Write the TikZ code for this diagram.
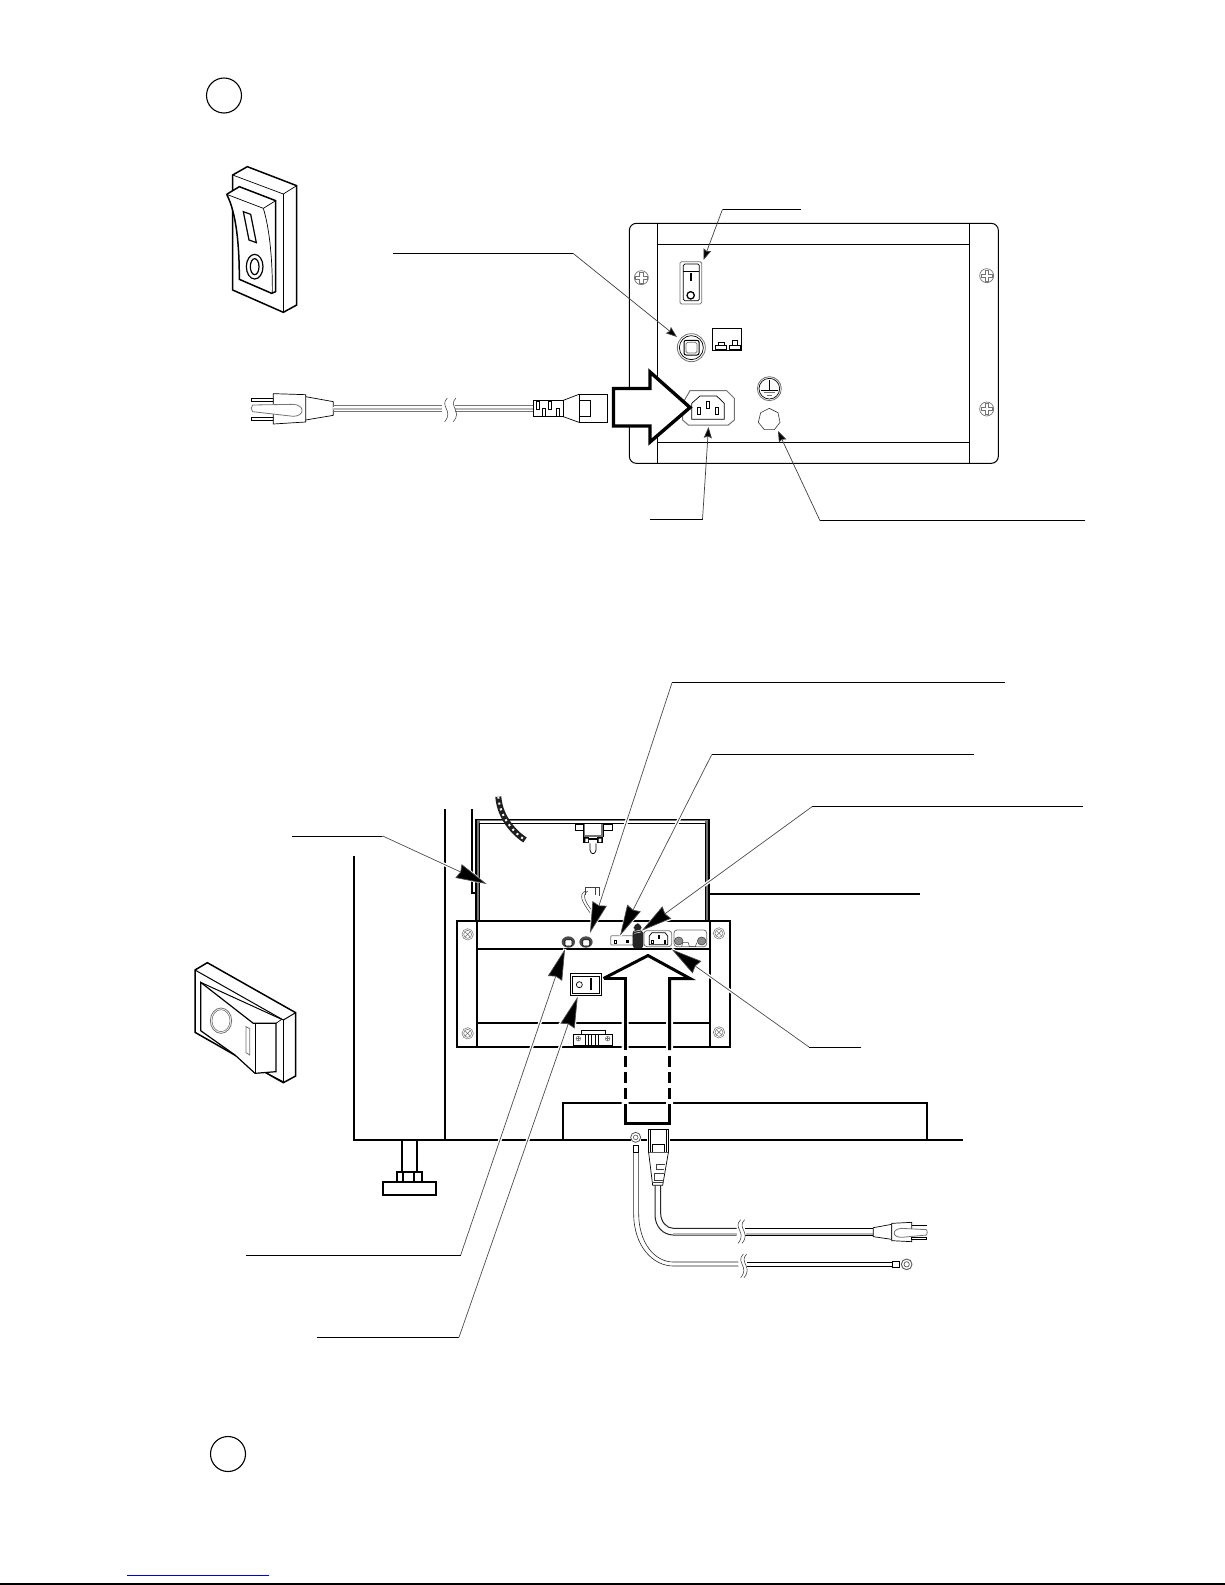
\documentclass[tikz,border=0pt]{standalone}
\usetikzlibrary{arrows.meta}
\definecolor{gr}{gray}{0.45}
\definecolor{lg}{gray}{0.72}
\tikzset{
  crop/.style 2 args={shift={(#1,#2)},x=0.33333pt,y=-0.33333pt},
  thk/.style={line width=1.5pt,line join=miter},
  med/.style={line width=1pt},
  thn/.style={line width=0.7pt},
  fine/.style={line width=0.55pt,draw=black!75},
  heavy/.style={line width=1.9pt},
  grayl/.style={line width=0.8pt,draw=gr},
  shelf/.style={line width=0.9pt},
  leadthin/.style={line width=0.7pt,draw=black!75},
  smallarrow/.style={leadthin,-{Stealth[length=11pt,width=8pt,inset=1.5pt,fill=black]}},
  bigarrow/.style={-{Stealth[length=31pt,width=15pt,inset=2pt,fill=black]},line width=0.7pt,draw=black!70},
  halo/.style={line width=3.5pt,draw=white},
  bigoutline/.style={line width=3.4pt,line join=miter,draw=black},
  screw/.style={line width=0.5pt,draw=gr}
}
\newcommand{\sbreak}[3]{%
  \draw[fine] (#1,#2-33) .. controls (#1-25,#2-8) and (#1+20,#2+5) .. (#1-8,#2+38);
  \draw[fine] (#1+#3,#2-33) .. controls (#1+#3-25,#2-8) and (#1+#3+20,#2+5) .. (#1+#3-8,#2+38);
}
\begin{document}
\begin{tikzpicture}[x=1pt,y=-1pt]
\useasboundingbox (0,0) rectangle (1225,1585);
\fill[white] (0,0) rectangle (1225,1585);

% ---- circles
\node[draw,circle,line width=1.1pt,minimum size=35pt,inner sep=0pt] (markA) at (224,95.5) {};
\node[draw,circle,line width=1.1pt,minimum size=35pt,inner sep=0pt] (markB) at (228,1454) {};

% ---- upper switch
\begin{scope}[crop={180}{60}]
 \draw[thk] (158,345)--(202,320)--(350,377)--(350,735)--(310,757)--(158,690)--cycle;
 \draw[thn] (158,345)--(310,402)--(350,377);
 \draw[thn] (310,402)--(310,757);
 \draw[thk,fill=white] (140,403)--(178,380)--(287,422)--(287,695)--(275,700)--(178,658)
    .. controls (178,560) and (170,460) .. (140,403);
 \draw[thn] (140,403)--(250,445)--(287,422);
 \draw[thn] (250,445) .. controls (270,510) and (278,610) .. (277,700);
 \draw[thn] (158,450) -- (158,640);
 \draw[line width=1.2pt] (190,455)--(212,463)--(229,548)--(207,540)--cycle;
 \draw[line width=1.2pt] (224,620) ellipse [x radius=25,y radius=37];
 \draw[line width=1.2pt] (224,620) ellipse [x radius=13,y radius=24];
 % plug and cord
 \draw[thn] (214,1015) rectangle (280,1025);
 \draw[thn] (214,1072) rectangle (280,1082);
 \draw[thn,fill=white] (280,1001)--(377,1004)--(377,1086)--(280,1092)--cycle;
 \draw[grayl,fill=white] (218,1035)--(340,1033) .. controls (375,1035) and (375,1068) .. (340,1069)--(218,1055) .. controls (212,1050) and (212,1040) .. (218,1035);
 \draw[thn] (377,1010)--(460,1025)--(460,1066)--(377,1080);
 \fill[lg] (460,1040) rectangle (785,1050);
 \fill[lg] (825,1040) rectangle (1060,1050);
 \fill[white] (460,1041) rectangle (785,1045);
 \fill[white] (825,1041) rectangle (1060,1045);
 \draw[grayl] (460,1036)--(785,1036) (460,1054)--(785,1054);
 \draw[grayl] (825,1036)--(1060,1036) (825,1054)--(1060,1054);
 \sbreak{802}{1047}{26}
 \draw[thn] (1060,1021) rectangle (1150,1070);
 \draw[thn] (1068,1023) rectangle (1078,1047);
 \draw[thn] (1105,1023) rectangle (1115,1047);
 \draw[thn] (1088,1045) rectangle (1096,1068);
 \draw[thn] (1128,1045) rectangle (1137,1068);
 \draw[thn] (1150,1021)--(1197,1003) (1150,1070)--(1197,1087);
 \draw[thn] (1197,1003) rectangle (1282,1087);
 \draw[thn] (1197,1021) rectangle (1232,1070);
\end{scope}

% ---- upper panel
\begin{scope}[crop={610}{190}]
 \draw[med,rounded corners=7pt] (58,100) rectangle (1165,820);
 \draw[med] (143,100)--(143,820) (1077,100)--(1077,820);
 \draw[med] (143,163)--(1077,163) (143,757)--(1077,757);
 \foreach \sx/\sy in {94/263,1130/257,1130/657}{
   \draw[screw,line width=0.7pt] (\sx,\sy) circle (21);
   \draw[screw] (\sx-5,\sy-17)--(\sx+5,\sy-17)--(\sx+5,\sy-5)--(\sx+17,\sy-5)--(\sx+17,\sy+5)--(\sx+5,\sy+5)--(\sx+5,\sy+17)--(\sx-5,\sy+17)--(\sx-5,\sy+5)--(\sx-17,\sy+5)--(\sx-17,\sy-5)--(\sx-5,\sy-5)--cycle;
 }
 % switch
 \draw[grayl,rounded corners=1.5pt] (210,215) rectangle (275,342);
 \draw[thn,rounded corners=1.5pt] (220,222) rectangle (268,332);
 \draw[thn] (220,245)--(268,245);
 \fill (240,250) rectangle (246,272);
 \draw[line width=1.3pt] (242,316) circle (11);
 % button
 \draw[grayl] (244,473) circle (42);
 \draw[thn] (244,473) circle (36);
 \draw[med,rounded corners=2pt] (222,451) rectangle (267,495);
 \draw[grayl,rounded corners=1.5pt] (228,457) rectangle (261,489);
 % terminal box
 \draw[line width=0.5pt] (307,415) rectangle (395,482);
 \draw[line width=0.6pt] (317,465) rectangle (348,477);
 \draw[line width=0.6pt] (325,457) rectangle (342,465);
 \draw[line width=0.6pt] (358,465) rectangle (390,477);
 \draw[line width=0.6pt] (367,452) rectangle (383,465);
 % socket
 \draw[grayl,line width=1pt] (240,602)--(350,602)--(373,625)--(373,690)--(355,705)--(235,705)--(218,690)--(218,640)--cycle;
 \draw[thn] (245,640)--(270,618)--(320,618)--(343,640)--(343,688)--(245,688)--cycle;
 \draw[thn] (262,652) rectangle (272,674);
 \draw[thn] (288,634) rectangle (298,656);
 \draw[thn] (316,652) rectangle (326,674);
 % earth
 \draw[grayl] (478,596) circle (36);
 \draw[thn] (478,596) circle (31);
 \draw[thn] (478,570)--(478,600) (452,600)--(504,600);
 \draw[grayl] (462,608)--(494,608) (470,616)--(486,616);
 \draw[line width=0.6pt,draw=black!80] (478,655)--(504,668)--(510,697)--(493,719)--(463,719)--(445,697)--(452,668)--cycle;
\end{scope}

% ---- upper heavy arrow
\coordinate (ua1) at (613.5,388.5);
\coordinate (ua2) at (650,388.5);
\coordinate (ua3) at (650,372);
\coordinate (ua4) at (690,407.5);
\coordinate (ua5) at (650,442);
\coordinate (ua6) at (650,426);
\coordinate (ua7) at (613.5,426);
\draw[bigoutline,fill=white] (ua1)--(ua2)--(ua3)--(ua4)--(ua5)--(ua6)--(ua7)--cycle;

% ---- upper leaders
\coordinate (l1a) at (393,253.3);
\coordinate (l1b) at (573,253.3);
\coordinate (l1t) at (677,337);
\draw[shelf] (l1a)--(l1b);
\draw[smallarrow] (l1b)--(l1t);
\coordinate (l2a) at (801,209.3);
\coordinate (l2b) at (722.5,209.3);
\coordinate (l2t) at (703.5,260);
\draw[shelf] (l2a)--(l2b);
\draw[smallarrow] (l2b)--(l2t);
\coordinate (l3a) at (650,519.3);
\coordinate (l3b) at (702.5,519.3);
\coordinate (l3t) at (708.5,427);
\draw[shelf] (l3a)--(l3b);
\draw[smallarrow] (l3b)--(l3t);
\coordinate (l4a) at (1085,520.7);
\coordinate (l4b) at (820,520.7);
\coordinate (l4t) at (778,431);
\draw[shelf] (l4a)--(l4b);
\draw[smallarrow] (l4b)--(l4t);

% ---- cabinet
\draw[heavy] (354,856)--(354,1140)--(963,1140);
\draw[heavy] (444.7,809)--(444.7,1140);
\draw[heavy] (471.7,809)--(471.7,893)--(475,893);
\draw[heavy] (562.7,1140)--(562.7,1103.3)--(926.7,1103.3)--(926.7,1140);
% door
\fill[gr] (476,819) rectangle (709,823);
\fill[gr] (476,819) rectangle (479.5,921);
\fill[gr] (705.5,819) rectangle (709,921);
\fill[white] (480,821) rectangle (705,823);
\draw[heavy,line width=1.5pt] (476,921)--(476,819.5)--(709,819.5)--(709,921);
\draw[heavy,line width=1.5pt] (479.5,921)--(479.5,823.5)--(705.5,823.5)--(705.5,921);
\draw[heavy] (710,894)--(920,894);
% panel
\begin{scope}[crop={440}{790}]
 \draw[heavy,fill=white] (50,393) rectangle (870,770);
 \draw[heavy] (110,393)--(110,770) (810,393)--(810,770);
 \draw[heavy] (110,477)--(810,477) (110,698)--(810,698);
 \foreach \sx/\sy in {83/433,837/430,83/730,837/727}{
   \draw[screw] (\sx,\sy) circle (17);
   \draw[screw] (\sx,\sy) circle (12);
   \draw[screw] (\sx-8,\sy-8)--(\sx+8,\sy+8) (\sx-8,\sy+8)--(\sx+8,\sy-8);
 }
 % chain
 \draw[line width=6pt,draw=black!88] (175,20) .. controls (178,70) and (210,120) .. (255,150);
 \draw[line width=2pt,draw=white,dash pattern=on 2pt off 4pt] (175,20) .. controls (178,70) and (210,120) .. (255,150);
 % top connector
 \draw[thn] (405,103) rectangle (430,122);
 \draw[thn] (490,103) rectangle (518,122);
 \fill[gr] (430,103) rectangle (490,140);
 \fill[white] (436,103) rectangle (484,136);
 \draw[thn] (430,103)--(430,140) (490,103)--(490,140);
 \draw[line width=2pt] (430,146)--(490,146);
 \fill (430,140) rectangle (448,160);
 \fill (470,140) rectangle (490,160);
 \fill[white] (436,146) rectangle (444,156) (476,146) rectangle (484,156);
 \draw[thn] (450,160)--(450,180) .. controls (452,195) and (466,195) .. (468,180)--(468,160);
 % small wire
 \draw[fine] (437,315)--(437,292)--(478,292)--(478,318);
 \draw[fine] (437,303) .. controls (415,312) and (425,335) .. (450,368);
 \draw[fine] (443,303) .. controls (425,315) and (435,335) .. (456,362);
 \draw[fine] (465,292)--(465,315);
 % round buttons
 \fill[black!70] (385,456) ellipse [x radius=20,y radius=17];
 \fill[black!70] (438,456) ellipse [x radius=20,y radius=17];
 \draw[thn,fill=white,rounded corners=1pt] (375,449) rectangle (396,468);
 \draw[thn,fill=white,rounded corners=1pt] (428,449) rectangle (449,468);
 % terminal strip
 \draw[grayl,rounded corners=1pt] (512,437) rectangle (580,465);
 \draw[thn] (522,450) rectangle (530,460);
 \fill (558,450) rectangle (568,460);
 % fuse holder
 \fill[black!85,rounded corners=3pt] (578,420) rectangle (610,475);
 \fill[black!85,rounded corners=5pt] (581,400) rectangle (605,426);
 \draw[white,line width=0.5pt] (583,424)--(603,420) (583,430)--(603,426);
 % socket
 \draw[grayl,rounded corners=3pt] (612,422) rectangle (695,470);
 \draw[thn] (628,438)--(636,428)--(675,428)--(683,438)--(683,464)--(628,464)--cycle;
 \draw[thn] (635,450) rectangle (640,460);
 \draw[thn] (654,436) rectangle (659,446);
 \draw[thn] (672,450) rectangle (677,460);
 % right connector
 \draw[grayl,rounded corners=3pt] (702,420) rectangle (800,470);
 \draw[fine] (725,470)--(728,458)--(745,458)--(748,470)--(766,470)--(770,458);
 \draw[fine,fill=black!45] (716,453) ellipse [x radius=13,y radius=12];
 \draw[fine,fill=black!45] (785,453) ellipse [x radius=13,y radius=12];
 % switch
 \draw[med,fill=white] (390,550) rectangle (485,617);
 \draw[thn] (398,558) rectangle (477,609);
 \draw[thn] (418,584) circle (9);
 \fill (450,565) rectangle (455,600);
 % bottom connector
 \draw[thn,fill=white] (425,720) rectangle (495,732);
 \draw[thn,fill=white] (400,732) rectangle (518,765);
 \foreach \vx in {435,445,455,465,475}{\draw[thn] (\vx,732)--(\vx,765);}
 \draw[gr,line width=0.5pt] (415,746) circle (7) (503,746) circle (7);
 \draw[gr,line width=0.5pt] (408,746)--(422,746) (415,739)--(415,753) (496,746)--(510,746) (503,739)--(503,753);
\end{scope}

% ---- lower big arrow
\coordinate (ba1) at (625,1123);
\coordinate (ba2) at (625,978.5);
\coordinate (ba3) at (603.5,978.5);
\coordinate (ba4) at (648,955.5);
\coordinate (ba5) at (690,978.5);
\coordinate (ba6) at (669.5,978.5);
\coordinate (ba7) at (669.5,1123);
\draw[draw=white,line width=7pt] (ba3)--(ba4)--(ba5) (625,980)--(625,1123) (669.5,980)--(669.5,1123);
\draw[line width=3pt,line join=miter] (ba3)--(ba2)--(625,1050);
\draw[line width=3pt,line join=miter] (ba3)--(ba4)--(ba5)--(ba6)--(669.5,1050);
\draw[line width=3pt,dash pattern=on 11pt off 5pt] (625,1056)--(625,1100);
\draw[line width=3pt,dash pattern=on 11pt off 5pt] (669.5,1056)--(669.5,1100);
\draw[line width=3pt,line join=miter] (625,1104)--(ba1)--(ba7)--(669.5,1104);

% ---- foot
\begin{scope}[crop={230}{1040}]
 \draw[heavy] (515,300)--(515,395) (562,300)--(562,395);
 \draw[heavy] (500,395) rectangle (577,425);
 \draw[heavy] (520,395)--(520,425) (552,395)--(552,425);
 \draw[heavy,fill=white] (458,425) rectangle (619,465);
\end{scope}

% ---- lower switch
\begin{scope}[crop={170}{940}]
 \draw[thk] (75,90)--(112,68)--(377,218)--(377,408)--(340,428)--(75,277)--cycle;
 \draw[med] (75,90)--(340,240)--(377,218);
 \draw[med] (340,240)--(340,428);
 \draw[med] (92,127)--(335,238);
 \draw[thn] (318,250)--(335,238);
 \draw[thk,line width=1.2pt,fill=white] (92,127)--(250,250)--(318,250)--(318,395)--(255,400)--(195,345)--(92,272)--cycle;
 \draw[thn] (255,252)--(255,400);
 \draw[thn] (285,397)--(340,425);
 \draw[grayl] (153,242) ellipse [x radius=32,y radius=38];
 \draw[grayl,line width=0.6pt] (153,242) ellipse [x radius=27,y radius=33];
 \draw[grayl] (228,260)--(239,266)--(239,345)--(228,338)--cycle;
\end{scope}

% ---- lower plugs and cords
\begin{scope}[crop={540}{1080}]
 % ring cord
 \fill[white] (272,155) rectangle (302,190);
 \draw[line width=0.8pt,draw=black!65] (287,172) circle (15);
 \draw[line width=0.6pt,draw=black!65] (287,172) circle (7);
 \draw[thn] (281,196) rectangle (296,218);
 \draw[line width=0.6pt,draw=black!85] (281,218)--(281,400) .. controls (281,500) and (340,558) .. (400,558)--(595,558);
 \draw[line width=0.6pt,draw=black!85] (296,218)--(296,400) .. controls (296,490) and (345,546) .. (400,546)--(595,546);
 \sbreak{610}{555}{10}
 \draw[thn] (622,548)--(1057,548) (622,559)--(1057,559);
 \draw[thn,fill=white] (1057,544) rectangle (1079,563);
 \draw[line width=0.9pt,draw=black!65] (1100,553) circle (16);
 \draw[line width=0.7pt,draw=black!65] (1100,553) circle (8);
 % plug
 \fill[white] (320,140) rectangle (390,225);
 \draw[thn,fill=white] (325,148) rectangle (385,218);
 \draw[thn] (332,148)--(332,218) (378,148)--(378,218);
 \draw[thn] (338,193) rectangle (373,218);
 \draw[thn,fill=white] (326,218)--(338,316)--(368,316)--(385,218);
 \draw[fine] (350,252)--(375,252) (350,252)--(350,268)--(372,268) (342,280)--(372,280) (342,280)--(342,300)--(372,300) (340,308)--(368,308);
 % cord
 \draw[line width=1pt,draw=black!85] (345,316)--(345,405) .. controls (345,440) and (370,465) .. (400,465)--(590,465);
 \draw[line width=1pt,draw=black!85] (362,316)--(362,400) .. controls (362,425) and (380,445) .. (400,445)--(590,445);
 \draw[line width=1.2pt,draw=lg] (400,462)--(590,462) (618,462)--(1000,462);
 \draw[thn] (615,445)--(1000,445) (615,465)--(1000,465);
 \sbreak{602}{452}{12}
 \draw[thn,fill=white] (1000,443)--(1055,433)--(1055,478)--(1000,470)--cycle;
 \draw[thn,fill=white] (1055,430)--(1115,427)--(1115,485)--(1055,482)--cycle;
 \draw[line width=1.3pt] (1115,437)--(1160,437);
 \draw[thn] (1115,473) rectangle (1160,479);
 \draw[grayl,fill=white] (1160,449)--(1085,445) .. controls (1055,447) and (1055,472) .. (1085,472)--(1160,465) .. controls (1162,460) and (1162,454) .. (1160,449);
\end{scope}

% ---- lower leaders
\coordinate (a1) at (1005,682.7); \coordinate (a2) at (672,682.7); \coordinate (at) at (590,933);
\coordinate (b1) at (974,754.7);  \coordinate (b2) at (711.7,754.7); \coordinate (bt) at (620,935.7);
\coordinate (c1) at (1083,806.7); \coordinate (c2) at (812,806.7); \coordinate (ct) at (641.7,930.7);
\coordinate (d1) at (292,836);    \coordinate (d2) at (382.7,836); \coordinate (dt) at (486.7,884);
\coordinate (e1) at (861,1047);   \coordinate (e2) at (809,1047);  \coordinate (et) at (671.7,949.3);
\coordinate (f1) at (246,1255);   \coordinate (f2) at (460.7,1255); \coordinate (ft) at (565,949);
\coordinate (g1) at (317,1337.3); \coordinate (g2) at (459,1337.3); \coordinate (gt) at (577.7,996.7);
\foreach \p/\q in {a2/at,b2/bt,c2/ct,d2/dt,e2/et,f2/ft,g2/gt}{
  \draw[halo] (\p)--(\q);
}
\foreach \p/\q in {a1/a2,b1/b2,c1/c2,d1/d2,e1/e2,f1/f2,g1/g2}{\draw[shelf] (\p)--(\q);}
\foreach \p/\q in {a2/at,b2/bt,c2/ct,d2/dt,e2/et,f2/ft,g2/gt}{
  \draw[draw=white,line width=1.5pt,-{Stealth[length=35pt,width=20pt,inset=3pt,fill=white]}] (\p)--(\q);
  \draw[bigarrow] (\p)--(\q);
}

% ---- page foot
\coordinate (pa) at (127,1575); \coordinate (pb) at (269,1575);
\draw[line width=1pt,draw={rgb,255:red,0;green,0;blue,204}] (pa)--(pb);
\coordinate (pc) at (0,1584); \coordinate (pd) at (1225,1584);
\draw[line width=1.3pt] (pc)--(pd);
\end{tikzpicture}
\end{document}
